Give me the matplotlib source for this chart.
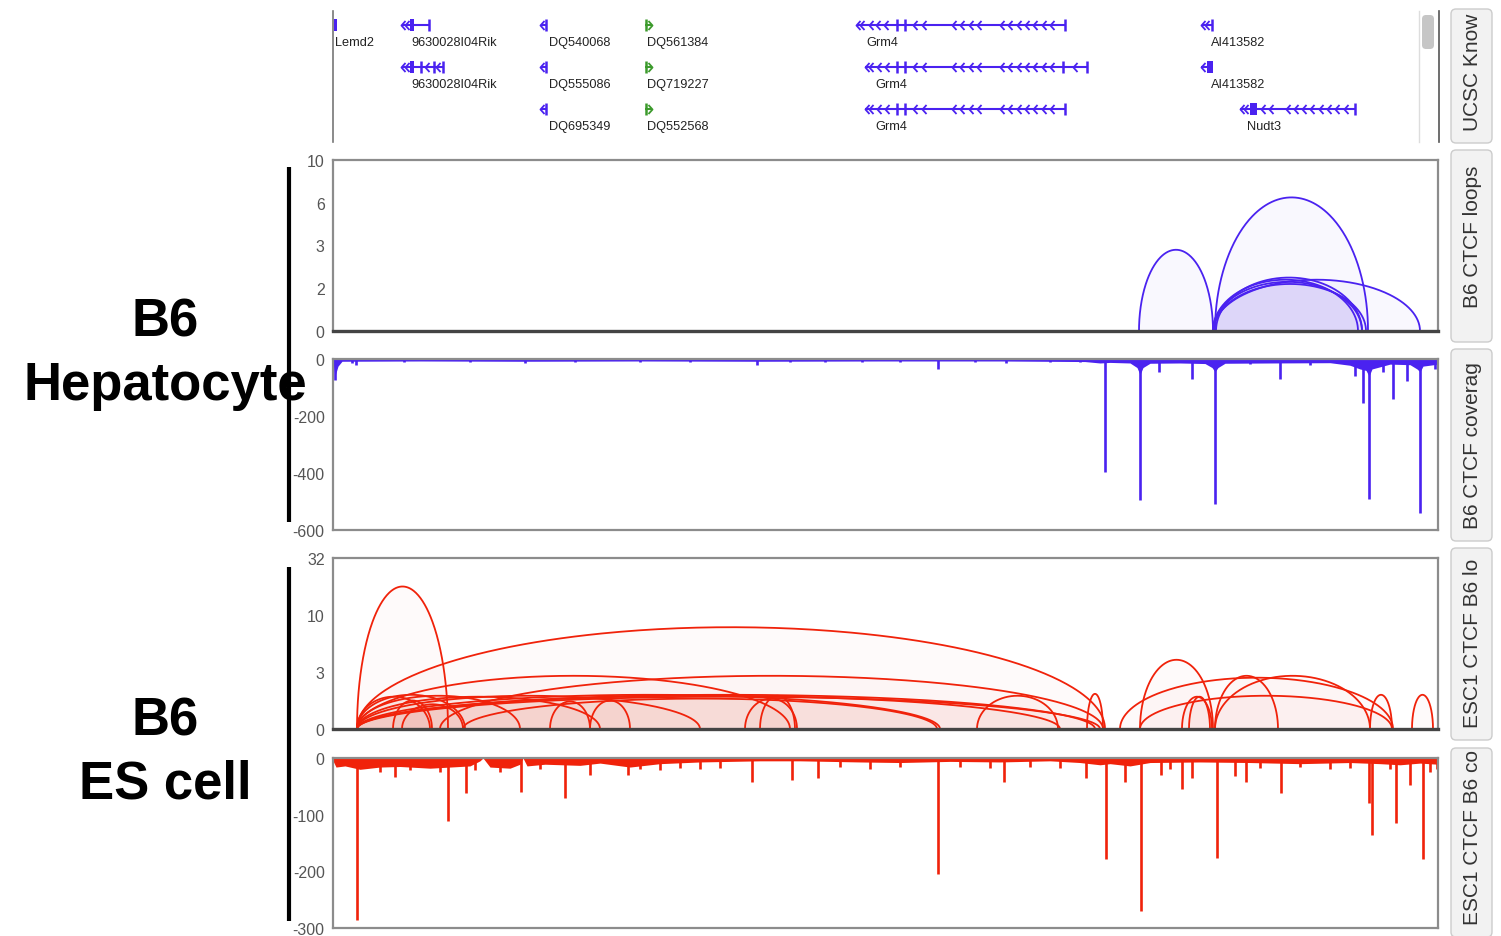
import numpy as np
import matplotlib
matplotlib.use("Agg")
import matplotlib.pyplot as plt
from matplotlib import font_manager
from matplotlib.path import Path
from matplotlib.patches import Rectangle, FancyBboxPatch
from matplotlib.transforms import Bbox, TransformedBbox

W, H = 1501, 937
plt.rcParams["axes.unicode_minus"] = False

# use the narrow face for axis and gene labels when it exists, else shrink regular
try:
    font_manager.findfont("Liberation Sans Narrow", fallback_to_default=False)
    SMALL_FONT, TICK_SIZE, GENE_SIZE = "Liberation Sans Narrow", 14, 11
except ValueError:
    SMALL_FONT, TICK_SIZE, GENE_SIZE = "Liberation Sans", 11.5, 9.2
plt.rcParams["font.family"] = [SMALL_FONT, "DejaVu Sans"]
SANS = ["Liberation Sans", "DejaVu Sans"]

BLUE = "#4a22f0"
RED = "#f0220a"
GREEN = "#3c9a2c"

# genomic window shown in every track (kb)
REGION = (333, 1438)

# --- gene models ---
GENE_NAMES = ["Lemd2", "9630028I04Rik", "9630028I04Rik", "DQ540068", "DQ555086", "DQ695349",
              "DQ561384", "DQ719227", "DQ552568", "Grm4", "Grm4", "Grm4",
              "AI413582", "AI413582", "Nudt3"]
GENE_ROW = [0, 0, 1, 0, 1, 2, 0, 1, 2, 0, 1, 2, 0, 1, 2]
GENE_START = [334, 402, 402, 541, 541, 541, 645, 645, 645, 857, 865, 865, 1202, 1201, 1240]
GENE_END = [337, 430, 444, 546, 546, 546, 652, 652, 652, 1065, 1087, 1065, 1212, 1213, 1355]
GENE_STRAND = ["-", "-", "-", "-", "-", "-", "+", "+", "+", "-", "-", "-", "-", "-", "-"]
GENE_EXONS = [
    [(334, 337)],
    [(410, 414), (429, 430)],
    [(410, 414), (421, 422), (434, 435), (443, 444)],
    [(545, 546)], [(545, 546)], [(545, 546)],
    [(645, 646)], [(645, 646)], [(645, 646)],
    [(896, 898), (904, 905), (1064, 1065)],
    [(896, 898), (904, 905), (1062, 1063), (1086, 1087)],
    [(896, 898), (904, 905), (1064, 1065)],
    [(1211, 1212)],
    [(1207, 1213)],
    [(1250, 1257), (1354, 1355)],
]
GENE_CHEVRONS = [
    [], [403, 407], [403, 407, 427, 438],
    [542], [542], [542],
    [650], [650], [650],
    [858, 862, 871, 878, 886, 915, 924, 954, 962, 971, 979, 1002, 1010, 1019, 1027, 1035, 1044, 1052],
    [867, 871, 879, 887, 915, 924, 954, 962, 971, 979, 1002, 1010, 1019, 1027, 1035, 1044, 1052, 1075],
    [867, 871, 879, 887, 915, 924, 954, 962, 971, 979, 1002, 1010, 1019, 1027, 1035, 1044, 1052],
    [1203, 1207], [1203],
    [1242, 1246, 1263, 1271, 1288, 1296, 1304, 1312, 1321, 1329, 1337, 1346],
]
GENE_LABEL_X = [335, 411, 411, 549, 549, 549, 647, 647, 647, 866, 875, 875, 1211, 1211, 1247]

# --- B6 hepatocyte CTCF loops (anchor kb, anchor kb, score) ---
HEP_LOOP_TICKS = [0, 2, 3, 6, 10]
HEP_LOOP_START = [1139, 1215, 1213, 1213, 1213, 1214, 1216]
HEP_LOOP_END = [1213, 1368, 1420, 1358, 1362, 1366, 1362]
HEP_LOOP_SCORE = [2.9, 6.5, 2.2, 2.2, 2.15, 2.1, 2.25]

# --- B6 hepatocyte CTCF coverage ---
HEP_COV_TICKS = [0, -200, -400, -600]
HEP_COV_POS = [333, 335, 338, 342, 420, 520, 640, 760, 880, 1000, 1085, 1100, 1110, 1130,
               1137, 1140, 1143, 1150, 1180, 1205, 1212, 1215, 1218, 1225, 1270, 1330, 1350,
               1360, 1366, 1369, 1372, 1390, 1410, 1417, 1420, 1423, 1438]
HEP_COV_VAL = [-10, -60, -25, -8, -7, -8, -7, -8, -7, -7, -9, -14, -12, -14,
               -30, -55, -30, -15, -14, -16, -30, -45, -30, -15, -14, -13, -22,
               -35, -40, -60, -35, -18, -20, -35, -45, -25, -18]
HEP_PEAK_POS = [335, 352, 356, 404, 470, 525, 575, 640, 690, 757, 790, 825, 862, 900, 938,
                975, 1006, 1050, 1080, 1105, 1140, 1159, 1192, 1215, 1250, 1280, 1310,
                1355, 1363, 1369, 1383, 1393, 1407, 1420, 1435]
HEP_PEAK_VAL = [-75, -15, -22, -12, -10, -15, -10, -12, -10, -22, -10, -12, -10, -12, -35,
                -12, -15, -10, -12, -395, -495, -46, -70, -510, -18, -70, -20,
                -60, -155, -490, -46, -140, -77, -540, -35]

# --- B6 ES cell CTCF loops ---
ES_LOOP_TICKS = [0, 3, 10, 32]
ES_LOOP_START = [357, 357, 357, 440,
                 357, 357, 357, 357, 357, 357, 357, 357, 357,
                 393, 402, 463, 550, 590, 745, 760, 977, 1087,
                 1140, 1120, 1140, 1182, 1189, 1215, 1215, 1370, 1412]
ES_LOOP_END = [448, 1105, 790, 1103,
               430, 465, 520, 600, 700, 940, 1060, 1095, 1100,
               432, 463, 937, 590, 630, 797, 795, 1058, 1103,
               1213, 1393, 1392, 1212, 1210, 1278, 1370, 1392, 1433]
ES_LOOP_SCORE = [21, 8.5, 2.8, 2.8,
                 1.7, 1.8, 1.75, 1.7, 1.75, 1.8, 1.75, 1.8, 1.7,
                 1.5, 1.3, 1.6, 1.45, 1.5, 1.6, 1.75, 1.75, 1.85,
                 4.5, 2.7, 1.75, 1.7, 1.7, 2.8, 2.8, 1.8, 1.8]

# --- B6 ES cell CTCF coverage ---
ES_COV_TICKS = [0, -100, -200, -300]
ES_COV_POS = [333, 336, 345, 360, 380, 400, 430, 470, 480, 483, 490, 510, 520, 523, 527, 545,
              580, 600, 630, 660, 700, 760, 800, 860, 900, 950, 1000, 1050, 1080, 1100, 1110,
              1130, 1150, 1200, 1250, 1300, 1350, 1380, 1400, 1420, 1438]
ES_COV_VAL = [-5, -16, -14, -20, -16, -15, -18, -14, -5, 0, -16, -18, -11, 0, -14, -11,
              -13, -9, -16, -10, -7, -5, -5, -7, -8, -6, -7, -5, -8, -12, -10,
              -14, -8, -7, -8, -10, -8, -10, -12, -9, -11]
ES_PEAK_POS = [357, 380, 395, 410, 440, 448, 466, 475, 500, 521, 540, 565, 590, 628, 640,
               660, 680, 700, 720, 752, 792, 818, 840, 870, 900, 938, 960, 990, 1004, 1030,
               1060, 1086, 1106, 1125, 1141, 1161, 1170, 1182, 1192, 1217, 1235, 1246, 1260,
               1281, 1300, 1330, 1350, 1369, 1372, 1390, 1396, 1410, 1423, 1430, 1437]
ES_PEAK_VAL = [-285, -25, -33, -22, -25, -112, -62, -22, -25, -60, -20, -70, -30, -30, -20,
               -22, -18, -20, -18, -42, -39, -36, -15, -20, -15, -205, -15, -18, -42, -15,
               -18, -36, -179, -42, -270, -30, -20, -55, -35, -176, -32, -42, -18,
               -62, -15, -20, -18, -80, -136, -20, -115, -48, -178, -25, -20]

# --- side tabs and cell-type labels ---
TAB_LABELS = ["UCSC Know", "B6 CTCF loops", "B6 CTCF coverag", "ESC1 CTCF B6 lo", "ESC1 CTCF B6 co"]
SAMPLE_LABELS = [("B6", "Hepatocyte"), ("B6", "ES cell")]


def px_rect(x0, y0, x1, y1):
    return [x0 / W, 1 - y1 / H, (x1 - x0) / W, (y1 - y0) / H]


def style_panel(ax, dark_bottom=False):
    ax.set_xlim(*REGION)
    ax.set_xticks([])
    for side in ["left", "right", "top", "bottom"]:
        ax.spines[side].set_color("#8c8c8c")
        ax.spines[side].set_linewidth(1.6)
    if dark_bottom:
        ax.spines["bottom"].set_color("#444444")
        ax.spines["bottom"].set_linewidth(2.4)
    ax.tick_params(axis="y", length=0, pad=6, labelsize=TICK_SIZE, labelcolor="#555555")


def draw_loops(ax, starts, ends, scores, ticks, color, alpha):
    levels = np.arange(len(ticks), dtype=float)

    def forward(v):
        return np.interp(v, ticks, levels)

    def inverse(v):
        return np.interp(v, levels, ticks)

    ax.set_yscale("function", functions=(forward, inverse))
    ax.set_ylim(ticks[0], ticks[-1])
    ax.set_yticks(ticks)
    ax.set_yticklabels([str(t) for t in ticks])
    t = np.linspace(0, np.pi, 241)
    for a, b, s in zip(starts, ends, scores):
        x = (a + b) / 2 + (b - a) / 2 * np.cos(t)
        y = inverse(forward(s) * np.sin(t))
        ax.fill_between(x, ticks[0], y, color=color, alpha=alpha, lw=0)
        ax.plot(x, y, color=color, lw=1.3)


def draw_coverage(ax, pos, val, peak_pos, peak_val, ticks, color):
    ax.fill_between(pos, val, 0, color=color, lw=0)
    ax.vlines(peak_pos, 0, peak_val, color=color, lw=1.9)
    ax.set_ylim(ticks[-1], 0)
    ax.set_yticks(ticks)
    ax.set_yticklabels([str(t) for t in ticks])


def chevron(direction):
    s = 1 if direction == "-" else -1
    return Path([(0.45 * s, 1), (-0.45 * s, 0), (0.45 * s, -1)],
                [Path.MOVETO, Path.LINETO, Path.LINETO])


fig = plt.figure(figsize=(W / 100, H / 100), dpi=100)

# gene annotation track
ax_g = fig.add_axes(px_rect(333, 8, 1438, 145))
ax_g.set_xlim(*REGION)
ax_g.set_ylim(145, 8)
ax_g.set_xticks([])
ax_g.set_yticks([])
for side in ["right", "top", "bottom"]:
    ax_g.spines[side].set_visible(False)
ax_g.spines["left"].set_color("#777777")
ax_g.spines["left"].set_linewidth(1.2)
ax_g.spines["left"].set_bounds(12, 143)

ROW_Y = [26, 68, 110]
for i, name in enumerate(GENE_NAMES):
    y = ROW_Y[GENE_ROW[i]]
    c = GREEN if GENE_STRAND[i] == "+" else BLUE
    ax_g.hlines(y, GENE_START[i], GENE_END[i], color=c, lw=1.5)
    for e0, e1 in GENE_EXONS[i]:
        if e1 - e0 <= 2:
            ax_g.vlines((e0 + e1) / 2, y - 6, y + 6, color=c, lw=1.8)
        else:
            ax_g.add_patch(Rectangle((e0, y - 6), e1 - e0, 12, color=c, lw=0))
    if GENE_CHEVRONS[i]:
        ax_g.plot(GENE_CHEVRONS[i], [y] * len(GENE_CHEVRONS[i]), ls="none",
                  marker=chevron(GENE_STRAND[i]), ms=6.5, mew=1.3, mec=c, mfc="none")
    ax_g.text(GENE_LABEL_X[i], y + 17, name, fontsize=GENE_SIZE, color="#222222",
              ha="left", va="center")

# hepatocyte tracks
ax_hl = fig.add_axes(px_rect(333, 161, 1438, 332))
style_panel(ax_hl, dark_bottom=True)
draw_loops(ax_hl, HEP_LOOP_START, HEP_LOOP_END, HEP_LOOP_SCORE, HEP_LOOP_TICKS, BLUE, 0.03)

ax_hc = fig.add_axes(px_rect(333, 360, 1438, 531))
style_panel(ax_hc)
draw_coverage(ax_hc, HEP_COV_POS, HEP_COV_VAL, HEP_PEAK_POS, HEP_PEAK_VAL, HEP_COV_TICKS, BLUE)

# ES cell tracks
ax_el = fig.add_axes(px_rect(333, 559, 1438, 730))
style_panel(ax_el, dark_bottom=True)
draw_loops(ax_el, ES_LOOP_START, ES_LOOP_END, ES_LOOP_SCORE, ES_LOOP_TICKS, RED, 0.018)

ax_ec = fig.add_axes(px_rect(333, 759, 1438, 929))
style_panel(ax_ec)
draw_coverage(ax_ec, ES_COV_POS, ES_COV_VAL, ES_PEAK_POS, ES_PEAK_VAL, ES_COV_TICKS, RED)

# overlay in pixel units for labels, bars, scrollbar and tabs
ax_o = fig.add_axes([0, 0, 1, 1])
ax_o.set_xlim(0, W)
ax_o.set_ylim(H, 0)
ax_o.axis("off")

for (top, bottom), (l1, l2), (y1, y2) in zip([(168, 523), (568, 922)], SAMPLE_LABELS,
                                             [(337, 400), (736, 799)]):
    ax_o.plot([289, 289], [top, bottom], color="black", lw=3, solid_capstyle="butt")
    ax_o.text(165, y1, l1, fontsize=38, fontweight="bold", ha="center", va="baseline",
              family=SANS)
    ax_o.text(165, y2, l2, fontsize=38, fontweight="bold", ha="center", va="baseline",
              family=SANS)

# scrollbar beside the gene track
ax_o.add_patch(Rectangle((1419, 12), 20, 131, facecolor="white", edgecolor="none"))
ax_o.plot([1419, 1419], [12, 143], color="#dddddd", lw=1)
ax_o.plot([1439, 1439], [12, 143], color="#555555", lw=1.2)
ax_o.add_patch(FancyBboxPatch((1424, 18), 8, 30, boxstyle="round,pad=2,rounding_size=4",
                              facecolor="#c6c6c6", edgecolor="none"))

tabs = [(9, 145), (150, 344), (349, 543), (548, 742), (748, 939)]
renderer = fig.canvas.get_renderer()
for (top, bottom), label in zip(tabs, TAB_LABELS):
    tab = FancyBboxPatch((1452, top + 2), 39, bottom - top - 4,
                         boxstyle="round,pad=1,rounding_size=5",
                         facecolor="#f2f2f2", edgecolor="#cccccc", lw=1)
    ax_o.add_patch(tab)
    t = ax_o.text(1472, (top + bottom) / 2 - 10, label, rotation=90, fontsize=15,
                  color="#333333", ha="center", va="center", family=SANS)
    height = t.get_window_extent(renderer=renderer).height
    if height > bottom - top - 50:
        t.set_y(bottom - 14)
        t.set_va("bottom")
    t.set_clip_box(TransformedBbox(Bbox([[1452, top + 3], [1492, bottom - 3]]), ax_o.transData))
    t.set_clip_on(True)

fig.savefig("out.png", dpi=100)
